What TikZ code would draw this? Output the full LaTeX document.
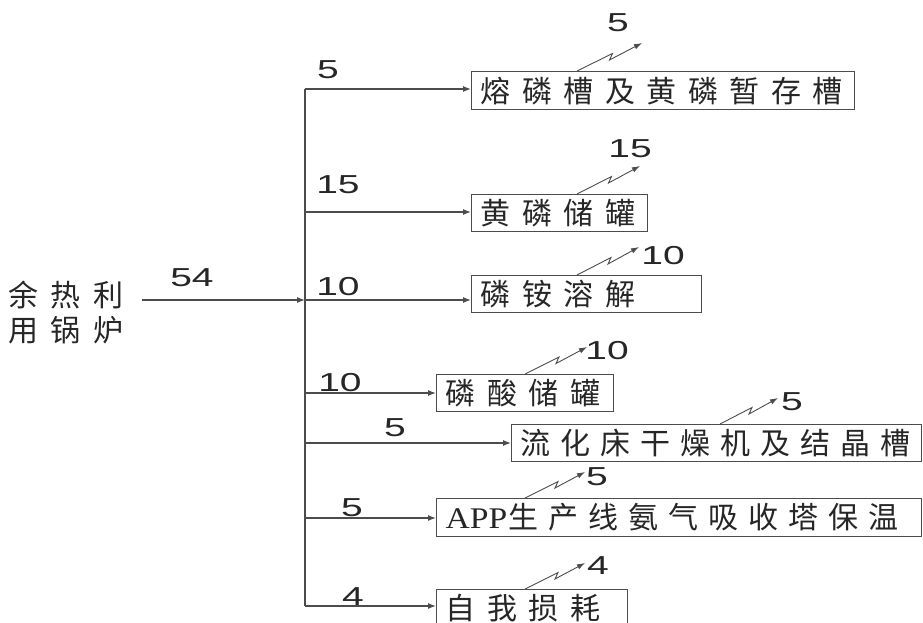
\documentclass[tikz,border=0pt]{standalone}
\usepackage{fontspec}
\setmainfont{Liberation Serif}
\newfontfamily\cjk{Noto Sans CJK SC}
\newfontfamily\numf{Liberation Sans}
\usetikzlibrary{arrows.meta,calc}
\makeatletter
\newlength\cjkgap \setlength\cjkgap{11.5pt}
\def\spc#1{\spc@first#1\@nil}
\def\spc@first#1{#1\spc@rest}
\def\spc@rest#1{\ifx#1\@nil\else\hspace{\cjkgap}#1\expandafter\spc@rest\fi}
\makeatother
\newcommand\nm[1]{\scalebox{1.5}[1]{#1}}
\tikzset{
  ln/.style={draw=black!70, line width=1.2pt},
  arr/.style={ln, -{Latex[length=8pt,width=6pt]}},
  zz/.style={draw=black!70, line width=0.9pt, -{Latex[length=8pt,width=5.5pt]}},
  box/.style={draw=black!70, line width=1.2pt, anchor=north west, inner xsep=9pt,
    inner ysep=0pt, align=left, font=\cjk\fontsize{30}{34}\selectfont, text=black!85},
  num/.style={font=\numf\fontsize{26}{30}\selectfont, text=black!85, inner sep=0pt},
}
\newcommand\zigarrow[2]{%
  \draw[zz] (#1) -- ($(#1)!0.5!(#2)+(3,-3.5)$) -- ($(#1)!0.5!(#2)+(0,3)$) -- (#2);}
\begin{document}
\begin{tikzpicture}[x=1pt,y=-1pt]
\useasboundingbox (0,0) rectangle (923,623);
% source
\node[font=\cjk\fontsize{30}{35}\selectfont, align=left, inner sep=0pt, anchor=west, text=black!85]
  (src) at (8,312.5) {\setlength\cjkgap{12.5pt}\spc{余热利}\\\setlength\cjkgap{12.5pt}\spc{用锅炉}};
% boxes
\node[box, text width=365pt, minimum height=38pt] (b1) at (471,71) {\spc{熔磷槽及黄磷暂存槽}};
\node[box, text width=158pt, minimum height=37pt] (b2) at (471,194) {\spc{黄磷储罐}};
\node[box, text width=212pt, minimum height=37pt] (b3) at (471,275) {\spc{磷铵溶解}};
\node[box, text width=159pt, minimum height=37pt] (b4) at (436,374) {\spc{磷酸储罐}};
\node[box, text width=392pt, minimum height=37pt] (b5) at (511,424) {\setlength\cjkgap{10pt}\spc{流化床干燥机及结晶槽}};
\node[box, text width=467pt, minimum height=38pt] (b6) at (436,498) {{\rmfamily\scalebox{1.12}[1]{APP}}\hspace{1pt}\setlength\cjkgap{10pt}\spc{生产线氨气吸收塔保温}};
\node[box, text width=173pt, minimum height=37pt] (b7) at (436,589) {\spc{自我损耗}};
% junctions
\coordinate (in0) at (142,300);
\coordinate (j1) at (305,89);
\coordinate (j2) at (305,212);
\coordinate (j3) at (305,300);
\coordinate (j4) at (305,393);
\coordinate (j5) at (305,443);
\coordinate (j6) at (305,518);
\coordinate (j7) at (305,606);
\draw[arr] (in0) -- (j3);
\draw[ln] (j1) -- (j7);
\draw[arr] (j1) -- (b1.west |- j1);
\draw[arr] (j2) -- (b2.west |- j2);
\draw[arr] (j3) -- (b3.west |- j3);
\draw[arr] (j4) -- (b4.west |- j4);
\draw[arr] (j5) -- (b5.west |- j5);
\draw[arr] (j6) -- (b6.west |- j6);
\draw[arr] (j7) -- (b7.west |- j7);
% branch labels
\node[num] (l0) at (192,278) {\nm{54}};
\node[num] (l1) at (328,70) {\nm{5}};
\node[num] (l2) at (338,185) {\nm{15}};
\node[num] (l3) at (338,287) {\nm{10}};
\node[num] (l4) at (340,383) {\nm{10}};
\node[num] (l5) at (395,428) {\nm{5}};
\node[num] (l6) at (352,508) {\nm{5}};
\node[num] (l7) at (353,597) {\nm{4}};
% loss arrows
\coordinate (z1) at ([xshift=106pt]b1.north west); \coordinate (t1) at (642,43);
\coordinate (z2) at ([xshift=106pt]b2.north west); \coordinate (t2) at (640,166);
\coordinate (z3) at ([xshift=106pt]b3.north west); \coordinate (t3) at (639,247);
\coordinate (z4) at ([xshift=89pt]b4.north west); \coordinate (t4) at (587,347);
\coordinate (z5) at ([xshift=209pt]b5.north west); \coordinate (t5) at (778,398);
\coordinate (z6) at ([xshift=89pt]b6.north west); \coordinate (t6) at (585,472);
\coordinate (z7) at ([xshift=89pt]b7.north west); \coordinate (t7) at (585,563);
\zigarrow{z1}{t1}
\zigarrow{z2}{t2}
\zigarrow{z3}{t3}
\zigarrow{z4}{t4}
\zigarrow{z5}{t5}
\zigarrow{z6}{t6}
\zigarrow{z7}{t7}
\node[num] (m1) at (618,23) {\nm{5}};
\node[num] (m2) at (630,149) {\nm{15}};
\node[num] (m3) at (663,256) {\nm{10}};
\node[num] (m4) at (607,351) {\nm{10}};
\node[num] (m5) at (792,402) {\nm{5}};
\node[num] (m6) at (597,477) {\nm{5}};
\node[num] (m7) at (598,566) {\nm{4}};
\end{tikzpicture}
\end{document}
